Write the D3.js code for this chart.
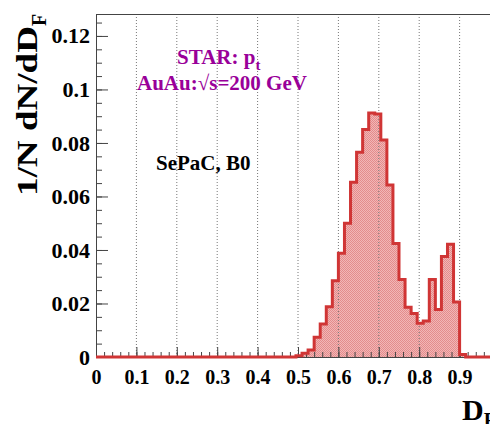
<!DOCTYPE html>
<html>
<head>
<meta charset="utf-8">
<script src="https://cdn.jsdelivr.net/npm/d3@7/dist/d3.min.js"></script>
<style>
  html, body { margin: 0; padding: 0; background: #fff; overflow: hidden; }
  text { font-family: "Liberation Serif", "Times New Roman", serif; font-weight: bold; }
</style>
</head>
<body>
<div id="chart"></div>
<script>
// histogram contents, bins of 0.015 starting at 0.495 (everything else is empty)
var binStart = 0.495;
var binWidth = 0.015;
var binValues = [0.0005, 0.0014, 0.0026, 0.0074, 0.0123, 0.0188, 0.0285, 0.0388,
                 0.0500, 0.0653, 0.0765, 0.0850, 0.0912, 0.0908, 0.0811, 0.0643,
                 0.0424, 0.0290, 0.0186, 0.0163, 0.0126, 0.0135, 0.0290, 0.0178,
                 0.0376, 0.0421, 0.0206, 0.0009];

var xTicks = [0, 0.1, 0.2, 0.3, 0.4, 0.5, 0.6, 0.7, 0.8, 0.9];
var xTickLabels = ['0', '0.1', '0.2', '0.3', '0.4', '0.5', '0.6', '0.7', '0.8', '0.9'];
var yTicks = [0, 0.02, 0.04, 0.06, 0.08, 0.1, 0.12];
var yTickLabels = ['0', '0.02', '0.04', '0.06', '0.08', '0.1', '0.12'];
var xMinorTicks = d3.range(0, 1.0001, 0.02);
var yMinorTicks = d3.range(0, 0.1251, 0.005);

var svgWidth = 490;
var svgHeight = 424;
var margin = { top: 14, left: 96 };
var width = 404;
var height = 343;

var svg = d3.select('#chart')
    .append('svg')
    .attr('width', svgWidth)
    .attr('height', svgHeight);

// checkered fill like ROOT's pattern style
var pat = svg.append('defs').append('pattern')
    .attr('id', 'dots')
    .attr('width', 2)
    .attr('height', 2)
    .attr('patternUnits', 'userSpaceOnUse');
pat.append('rect').attr('width', 2).attr('height', 2).attr('fill', '#f2b6b6');
pat.append('rect').attr('width', 1).attr('height', 1).attr('fill', '#e38c8c');
pat.append('rect').attr('x', 1).attr('y', 1).attr('width', 1).attr('height', 1).attr('fill', '#e38c8c');

var chartGroup = svg.append('g')
    .attr('transform', `translate(${margin.left}, ${margin.top})`);

var xScale = d3.scaleLinear().domain([0, 1]).range([0, width]);
var yScale = d3.scaleLinear().domain([0, 0.1282]).range([height, 0]);

// step points for the histogram
var steps = [{ x: 0, y: 0 }];
binValues.forEach(function(v, i) {
    steps.push({ x: binStart + i * binWidth, y: v });
});
steps.push({ x: binStart + binValues.length * binWidth, y: 0 });
steps.push({ x: 1, y: 0 });

var area = d3.area()
    .curve(d3.curveStepAfter)
    .x(d => xScale(d.x))
    .y0(yScale(0))
    .y1(d => yScale(d.y));

chartGroup.append('path')
    .datum(steps)
    .attr('d', area)
    .attr('fill', 'url(#dots)');

// dotted vertical grid
chartGroup.selectAll('.grid')
    .data(xTicks.slice(1).concat([1]))
    .enter()
    .append('line')
    .attr('x1', d => xScale(d))
    .attr('x2', d => xScale(d))
    .attr('y1', 0)
    .attr('y2', height)
    .attr('stroke', '#777')
    .attr('stroke-width', 1)
    .attr('stroke-dasharray', '1,2');

// frame
chartGroup.append('line')
    .attr('x1', 0).attr('x2', width).attr('y1', 0.5).attr('y2', 0.5)
    .attr('stroke', '#444');

var xAxis = d3.axisBottom(xScale)
    .tickValues(xTicks)
    .tickFormat((d, i) => xTickLabels[i])
    .tickSizeInner(-10)
    .tickSizeOuter(0)
    .tickPadding(13);

var xMinor = d3.axisBottom(xScale)
    .tickValues(xMinorTicks)
    .tickFormat('')
    .tickSizeInner(-5)
    .tickSizeOuter(0);

var yAxis = d3.axisLeft(yScale)
    .tickValues(yTicks)
    .tickFormat((d, i) => yTickLabels[i])
    .tickSizeInner(-12)
    .tickSizeOuter(0)
    .tickPadding(6);

var yMinor = d3.axisLeft(yScale)
    .tickValues(yMinorTicks)
    .tickFormat('')
    .tickSizeInner(-6)
    .tickSizeOuter(0);

chartGroup.append('g')
    .attr('transform', `translate(0, ${height})`)
    .call(xMinor);

var gx = chartGroup.append('g')
    .attr('transform', `translate(0, ${height})`)
    .call(xAxis);

chartGroup.append('g').call(yMinor);
var gy = chartGroup.append('g').call(yAxis);

chartGroup.selectAll('.domain, .tick line').attr('stroke', '#444');

gx.selectAll('text')
    .style('font-size', '20px')
    .style('font-family', '"Liberation Serif", serif')
    .style('font-weight', 'bold')
    .attr('fill', '#000');

gy.selectAll('text')
    .style('font-size', '22px')
    .style('font-family', '"Liberation Serif", serif')
    .style('font-weight', 'bold')
    .attr('fill', '#000');

// histogram outline on top
var line = d3.line()
    .curve(d3.curveStepAfter)
    .x(d => xScale(d.x))
    .y(d => yScale(d.y));

chartGroup.append('path')
    .datum(steps)
    .attr('d', line)
    .attr('fill', 'none')
    .attr('stroke', '#d03535')
    .attr('stroke-width', 3);

// axis titles
var yTitle = svg.append('text')
    .attr('transform', 'translate(37, 196) rotate(-90)')
    .style('font-size', '30px');
yTitle.append('tspan')
    .attr('textLength', 170)
    .attr('lengthAdjust', 'spacingAndGlyphs')
    .text('1/N dN/dD');
yTitle.append('tspan')
    .attr('dy', 9)
    .style('font-size', '20px')
    .text('F');

var xTitle = svg.append('text')
    .attr('x', 462)
    .attr('y', 420)
    .style('font-size', '30px');
xTitle.append('tspan').text('D');
xTitle.append('tspan')
    .attr('dy', 7)
    .style('font-size', '20px')
    .text('F');

// labels
var star = svg.append('text')
    .attr('x', 177)
    .attr('y', 64)
    .attr('fill', '#990099')
    .style('font-size', '21px');
star.append('tspan').text('STAR: p');
star.append('tspan')
    .attr('dy', 6)
    .style('font-size', '15px')
    .text('t');

svg.append('text')
    .attr('x', 137)
    .attr('y', 90)
    .attr('fill', '#990099')
    .style('font-size', '21px')
    .text('AuAu:\u221As=200 GeV');

svg.append('text')
    .attr('x', 156)
    .attr('y', 170)
    .attr('fill', '#000')
    .style('font-size', '21px')
    .text('SePaC, B0');
</script>
</body>
</html>
